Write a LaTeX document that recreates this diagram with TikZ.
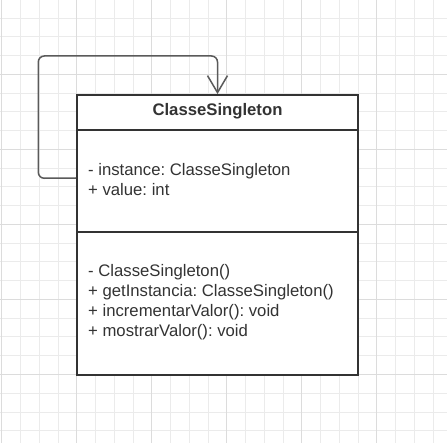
\documentclass[tikz,border=0pt]{standalone}
\usepackage{fontspec}
\setmainfont{Liberation Sans}
\usetikzlibrary{arrows.meta}
\definecolor{gridminor}{HTML}{EBEBEB}
\definecolor{gridmajor}{HTML}{DCDCDC}
\definecolor{ink}{HTML}{333333}
\definecolor{wire}{HTML}{5A5A5A}
\tikzset{
  compart/.style={draw=ink, line width=1.8pt, fill=white, rectangle, inner sep=0pt},
  member/.style={text=ink, align=left, anchor=west, inner sep=0pt,
     font=\fontsize{16.7}{20}\selectfont},
  title/.style={text=ink, inner sep=0pt, font=\fontsize{16.7}{20}\selectfont\bfseries},
  selfloop/.style={draw=wire, line width=1.5pt, rounded corners=6pt,
     -{Straight Barb[length=17pt,width=20pt,line width=1.5pt]}},
}
\begin{document}
\frenchspacing
\begin{tikzpicture}[x=1pt,y=-1pt]
\useasboundingbox[fill=white] (0,0) rectangle (447,443);
% grid
\foreach \k in {0,...,23}{
  \pgfmathsetmacro{\gx}{1.7+18.75*\k}
  \draw[gridminor, line width=0.8pt] (\gx,0) -- (\gx,443);
}
\foreach \k in {1,...,23}{
  \pgfmathsetmacro{\gy}{-0.6+18.75*\k}
  \draw[gridminor, line width=0.8pt] (0,\gy) -- (447,\gy);
}
\foreach \k in {0,4,...,20}{
  \pgfmathsetmacro{\gx}{1.7+18.75*\k}
  \draw[gridmajor, line width=0.8pt] (\gx,0) -- (\gx,443);
}
\foreach \k in {4,8,...,20}{
  \pgfmathsetmacro{\gy}{-0.6+18.75*\k}
  \draw[gridmajor, line width=0.8pt] (0,\gy) -- (447,\gy);
}
% class box
\node[compart, minimum width=281pt, minimum height=35pt] (header) at (217.5,112.5) {};
\node[compart, minimum width=281pt, minimum height=102pt] (attrs) at (217.5,181) {};
\node[compart, minimum width=281pt, minimum height=143pt] (methods) at (217.5,303.5) {};
\node[title] (titletext) at (217.5,111) {ClasseSingleton};
\node[member] (attrtext) at (88,179.3) {- instance: ClasseSingleton\\+ value: int};
\node[member] (methtext) at (88,301.7) {- ClasseSingleton()\\+ getInstancia: ClasseSingleton()\\+ incrementarValor(): void\\+ mostrarValor(): void};
% self association
\coordinate (c1) at (38.3,178.3);
\coordinate (c2) at (38.3,56);
\coordinate (c3) at (217.5,56);
\draw[selfloop] ([yshift=3pt]attrs.west) -- (c1) -- (c2) -- (c3) -- (header.north);
\end{tikzpicture}
\end{document}
